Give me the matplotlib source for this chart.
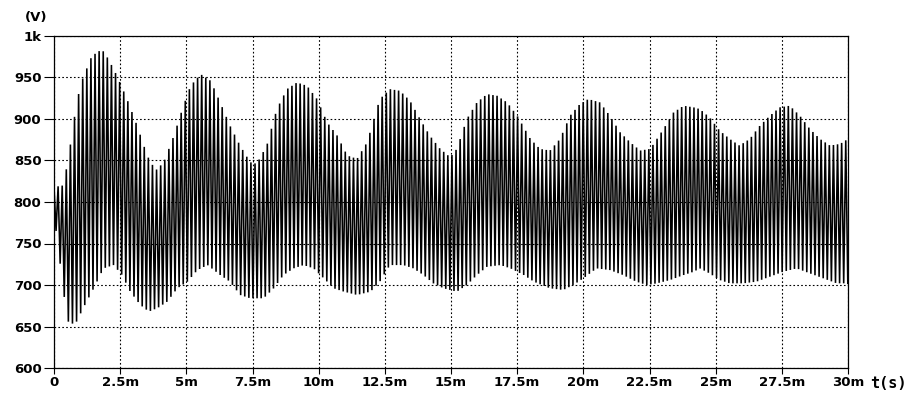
import numpy as np
import matplotlib
matplotlib.use("Agg")
import matplotlib.pyplot as plt

# Upper envelope of the ringing voltage (time in ms, volts)
t_upper = [0.0, 0.35, 0.54, 0.8, 1.0, 1.43, 1.81, 2.06, 2.38, 2.76, 3.14, 3.52,
           3.84, 4.15, 4.53, 4.85, 5.16, 5.54, 5.92, 6.28, 6.65, 7.03, 7.41, 7.66,
           8.04, 8.42, 8.8, 9.18, 9.56, 9.94, 10.32, 10.7, 11.08, 11.45, 11.83,
           12.31, 12.69, 13.07, 13.45, 13.83, 14.2, 14.59, 14.97, 15.22, 15.6,
           15.98, 16.36, 16.74, 17.12, 17.5, 18.0, 18.36, 18.74, 19.12, 19.5,
           19.87, 20.19, 20.63, 21.0, 21.39, 21.77, 22.15, 22.53, 23.03, 23.41,
           23.79, 24.17, 24.4, 24.77, 25.15, 25.53, 25.9, 26.29, 26.67, 27.05,
           27.42, 27.8, 28.18, 28.56, 28.94, 29.32, 29.7, 30.0]
v_upper = [818, 820, 852, 908, 942, 976, 984, 972, 952, 924, 892, 856,
           838, 848, 880, 912, 940, 954, 946, 920, 892, 868, 848, 846,
           868, 912, 936, 944, 940, 924, 896, 880, 856, 852, 872,
           924, 936, 934, 922, 900, 880, 864, 854, 864, 900,
           920, 930, 928, 920, 904, 876, 864, 862, 876, 904,
           918, 924, 920, 904, 884, 872, 862, 864, 888, 908,
           916, 914, 912, 902, 886, 876, 868, 876, 892, 904,
           914, 916, 904, 888, 876, 868, 870, 876]

# Lower envelope
t_lower = [0.0, 0.16, 0.35, 0.48, 0.6, 0.86, 1.1, 1.5, 1.87, 2.25, 2.57, 2.88,
           3.26, 3.58, 3.9, 4.28, 4.66, 5.04, 5.42, 5.8, 6.28, 6.65, 7.03, 7.41,
           7.92, 8.3, 8.67, 9.05, 9.43, 9.81, 10.19, 10.57, 10.95, 11.45, 11.96,
           12.31, 12.69, 13.2, 13.58, 13.96, 14.33, 14.72, 15.22, 15.6, 15.98,
           16.36, 16.87, 17.25, 17.75, 18.13, 18.74, 19.24, 19.62, 20.0, 20.5,
           21.0, 21.5, 22.0, 22.4, 22.78, 23.28, 23.79, 24.17, 24.4, 24.77,
           25.15, 25.53, 26.04, 26.54, 27.05, 27.55, 28.06, 28.56, 29.07, 29.57,
           30.0]
v_lower = [785, 744, 696, 660, 652, 656, 672, 696, 720, 724, 712, 692,
           676, 668, 672, 680, 696, 704, 718, 724, 712, 704, 688, 684,
           684, 696, 712, 720, 724, 720, 708, 696, 692, 688, 692,
           704, 724, 724, 720, 712, 702, 696, 692, 700, 712,
           722, 724, 720, 712, 704, 696, 694, 700, 708, 720,
           718, 712, 704, 700, 702, 706, 712, 716, 720, 714,
           706, 702, 702, 704, 710, 716, 720, 714, 708, 702,
           702]

carrier_period_ms = 0.155

x_ticks = [0, 2.5, 5, 7.5, 10, 12.5, 15, 17.5, 20, 22.5, 25, 27.5, 30]
x_tick_labels = ["0", "2.5m", "5m", "7.5m", "10m", "12.5m", "15m", "17.5m",
                 "20m", "22.5m", "25m", "27.5m", "30m"]
y_ticks = [600, 650, 700, 750, 800, 850, 900, 950, 1000]
y_tick_labels = ["600", "650", "700", "750", "800", "850", "900", "950", "1k"]

# Waveform: alternate between the envelopes every half carrier cycle
t_half = np.arange(0, 30 + 1e-9, carrier_period_ms / 2)
hi = np.interp(t_half, t_upper, v_upper)
lo = np.interp(t_half, t_lower, v_lower)
wave = np.where(np.arange(len(t_half)) % 2 == 0, hi, lo)

font = {"family": "DejaVu Sans", "weight": "bold", "size": 9.5}

fig = plt.figure(figsize=(9.14, 3.99), dpi=100)
ax = fig.add_axes([54 / 914, 1 - 368 / 399, 794 / 914, 332 / 399])

ax.plot(t_half, wave, color="black", lw=1.15, solid_joinstyle="miter")

ax.set_xlim(0, 30)
ax.set_ylim(600, 1000)
ax.set_xticks(x_ticks)
ax.set_xticklabels(x_tick_labels, fontdict=font)
ax.set_yticks(y_ticks)
ax.set_yticklabels(y_tick_labels, fontdict=font)
ax.tick_params(axis="x", direction="out", length=4.5, width=0.8, pad=1,
               colors="black")
ax.tick_params(axis="y", direction="out", length=7, width=0.8, pad=2,
               colors="black")
ax.grid(True, color="black", lw=0.8, linestyle=(0, (1.5, 2)))
ax.set_axisbelow(True)
for s in ax.spines.values():
    s.set_linewidth(0.9)
    s.set_color("black")

fig.text(36 / 914, 1 - 17 / 399, "(V)", ha="center", va="center", **font)
fig.text(888 / 914, 1 - 383 / 399, "t(s)", ha="center", va="center",
         family="DejaVu Sans Mono", weight="bold", size=11)

fig.savefig("out.png", dpi=100, facecolor="white")
